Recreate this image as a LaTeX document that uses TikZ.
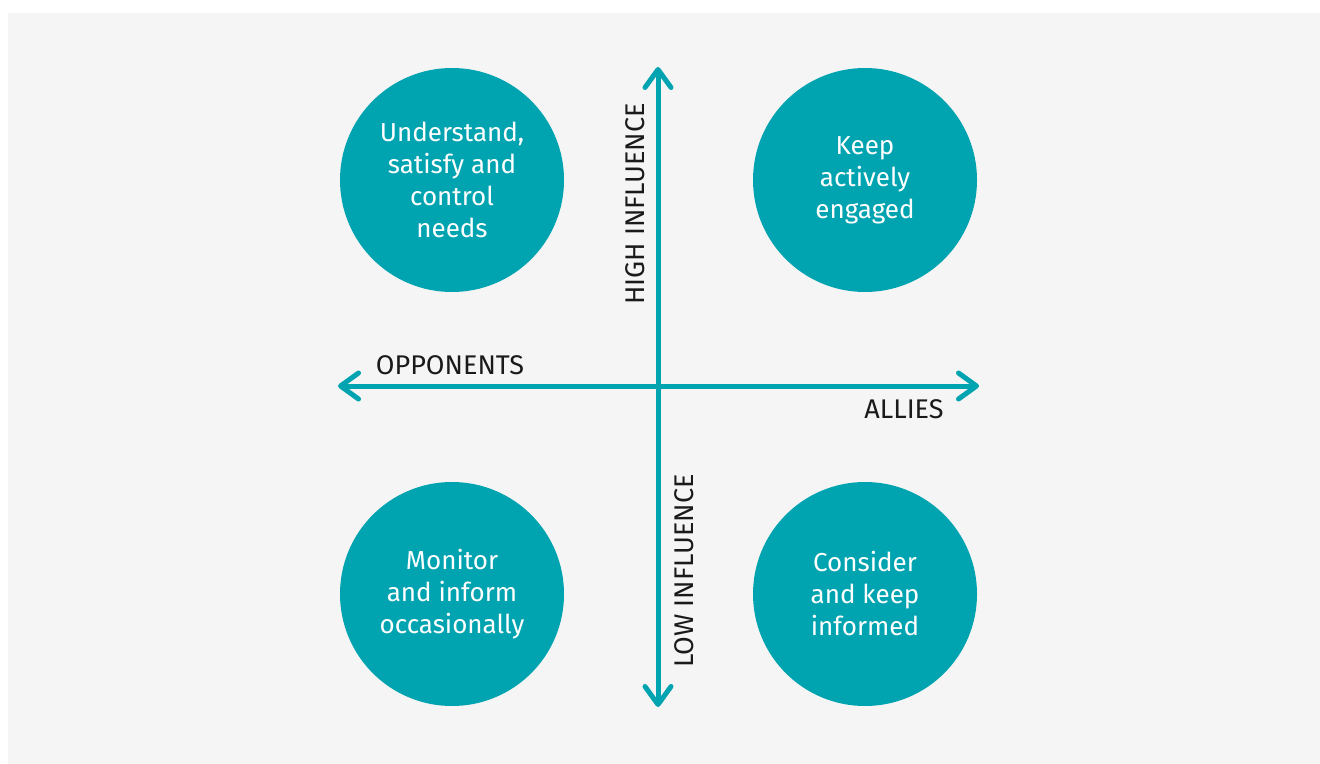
\documentclass[tikz,border=0pt]{standalone}
\usepackage{fontspec}
\setmainfont{Fira Sans}
\usetikzlibrary{arrows.meta}
\definecolor{quadteal}{HTML}{00A3B0}
\definecolor{bggrey}{HTML}{F5F5F5}
\definecolor{labelgrey}{HTML}{1A1A1A}

\begin{document}
\begin{tikzpicture}[x=0.5pt, y=-0.5pt,
    blob/.style={circle, fill=quadteal, minimum size=112pt, inner sep=0pt, text=white, align=center, font=\fontsize{13}{16}\selectfont},
    axis/.style={quadteal, line width=2.5pt, {Straight Barb[round,length=9pt,width=13pt]}-{Straight Barb[round,length=9pt,width=13pt]}},
    axislabel/.style={text=labelgrey, font=\fontsize{13.5}{15}\selectfont, inner sep=0pt}]
    \useasboundingbox (0,0) rectangle (1320,764);
    \fill[white] (0,0) rectangle (1320,764);
    \fill[bggrey] (8,13) rectangle (1320,764);

    % the four quadrants
    \node[blob] (engage) at (452,180) {Understand,\\satisfy and\\control\\needs};
    \node[blob] (active) at (865,180) {Keep\\actively\\engaged};
    \node[blob] (monitor) at (452,594) {Monitor\\and inform\\occasionally};
    \node[blob] (consider) at (865,594) {Consider\\and keep\\informed};

    % axes
    \coordinate (up) at (658,67);
    \coordinate (down) at (658,707);
    \coordinate (left) at (338,386);
    \coordinate (right) at (979,386);
    \draw[axis] (down) -- (up);
    \draw[axis] (left) -- (right);

    \node[axislabel, rotate=90] (high) at (635,204) {HIGH INFLUENCE};
    \node[axislabel, rotate=90] (low) at (684,571) {LOW INFLUENCE};
    \node[axislabel] (opp) at (450,365) {OPPONENTS};
    \node[axislabel] (allies) at (904,409) {ALLIES};
\end{tikzpicture}
\end{document}
